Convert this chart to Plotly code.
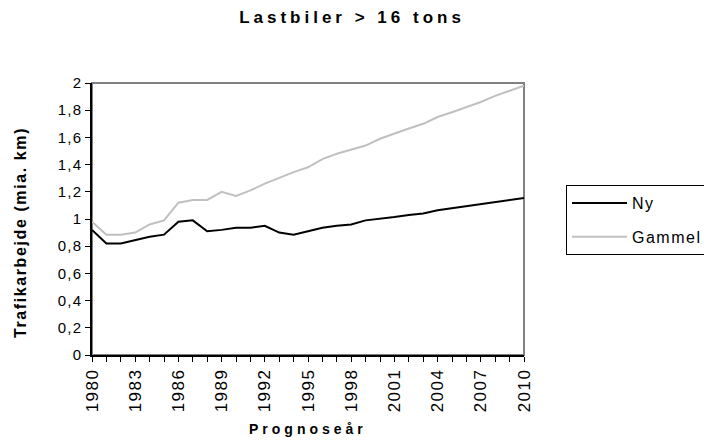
import plotly.graph_objects as go

years = list(range(1980, 2011))
ny = [0.92, 0.82, 0.82, 0.845, 0.87, 0.885, 0.98, 0.99, 0.91, 0.92, 0.935, 0.935, 0.95, 0.90, 0.885,
      0.91, 0.935, 0.95, 0.96, 0.99, 1.0, 1.015, 1.03, 1.04, 1.065, 1.08, 1.09, 1.105, 1.12, 1.14, 1.155]
gammel = [0.98, 0.885, 0.885, 0.90, 0.96, 0.99, 1.12, 1.14, 1.14, 1.2, 1.17, 1.21, 1.26, 1.305, 1.345,
          1.38, 1.44, 1.48, 1.51, 1.54, 1.59, 1.63, 1.665, 1.70, 1.75, 1.785, 1.82, 1.86, 1.905, 1.94, 1.98]
x_tick_years = list(range(1980, 2011, 3))
y_tick_vals = [0, 0.2, 0.4, 0.6, 0.8, 1, 1.2, 1.4, 1.6, 1.8, 2]
y_tick_text = ["0", "0,2", "0,4", "0,6", "0,8", "1", "1,2", "1,4", "1,6", "1,8", "2"]
series_names = ["Ny", "Gammel"]

FONT = "Liberation Sans, Arial, sans-serif"

# page body has an 8px default margin: figure is laid out in a 704x435 frame
W, H = 704, 435
OFF = 8
L, T, R, B = 84, 75, 188, 88
PW, PH = W - L - R, H - T - B


def px(xr):
    return (xr - OFF - L) / PW


def py(yr):
    return 1 - (yr - OFF - T) / PH


def sp(text, s):
    return f'<span style="letter-spacing:{s}px">{text}</span>'


fig = go.Figure()
fig.add_trace(go.Scatter(x=years, y=ny, mode="lines", name=sp(series_names[0], 1.5), legendgroup="a",
                         line=dict(color="#000000", width=2)))
fig.add_trace(go.Scatter(x=years, y=gammel, mode="lines", name=sp(series_names[1], 1.5), legendgroup="b",
                         line=dict(color="#c0c0c0", width=2)))

fig.add_shape(type="rect", xref="x domain", yref="y domain", x0=0, x1=1, y0=0, y1=1,
              line=dict(color="#808080", width=2), layer="below")

fig.add_annotation(text="<b>" + sp("Trafikarbejde (mia. km)", 1.6) + "</b>",
                   xref="paper", yref="paper", x=px(20), y=py(233), xanchor="center", yanchor="middle",
                   textangle=-90, showarrow=False, font=dict(size=16, family=FONT, color="black"))
fig.add_annotation(text="<b>" + sp("Prognoseår", 4) + "</b>",
                   xref="paper", yref="paper", x=px(308), y=py(429), xanchor="center", yanchor="middle",
                   showarrow=False, font=dict(size=14, family=FONT, color="black"))

fig.update_layout(
    width=W, height=H,
    margin=dict(l=L, r=R, t=T, b=B, autoexpand=False),
    paper_bgcolor="white", plot_bgcolor="white",
    font=dict(family=FONT, color="black"),
    title=dict(text="<b>" + sp("Lastbiler &gt; 16 tons", 4) + "</b>",
               x=(352 - OFF) / W, xanchor="center", y=1 - (17 - OFF) / H, yanchor="middle",
               font=dict(size=17, family=FONT)),
    showlegend=True,
    legend=dict(x=px(566), xanchor="left", y=py(185), yanchor="top",
                bordercolor="black", borderwidth=1, bgcolor="white",
                font=dict(size=16, family=FONT), tracegroupgap=10, itemwidth=55),
    xaxis=dict(range=[1980, 2010], tickvals=x_tick_years, ticktext=[sp(str(y), 1.5) for y in x_tick_years],
               tickangle=-90, ticks="outside", ticklen=5, tickcolor="black",
               showline=True, linecolor="black", linewidth=1.5, showgrid=False, zeroline=False,
               tickfont=dict(size=17, family=FONT),
               minor=dict(dtick=1, tick0=1980, ticks="outside", ticklen=5, tickcolor="black", showgrid=False)),
    yaxis=dict(range=[0, 2], tickvals=y_tick_vals, ticktext=[sp(t, 1.2) for t in y_tick_text],
               ticks="outside", ticklen=5, tickcolor="black",
               showline=True, linecolor="black", linewidth=1.5, showgrid=False, zeroline=False,
               tickfont=dict(size=15, family=FONT)),
)

fig.write_html("out.html")
